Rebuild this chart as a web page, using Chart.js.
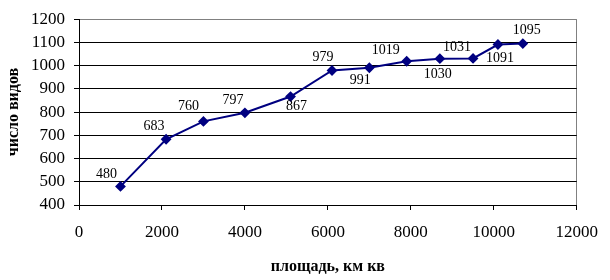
<!DOCTYPE html>
<html>
<head>
<meta charset="utf-8">
<script src="https://cdn.jsdelivr.net/npm/chart.js@4/dist/chart.umd.min.js"></script>
<style>
  html, body { margin: 0; padding: 0; background: #fff; }
  #wrap { width: 610px; height: 280px; }
</style>
</head>
<body>
<div id="wrap"><canvas id="chart"></canvas></div>
<script>
// площадь (км кв) and число видов
const areas = [1000, 2100, 3000, 4000, 5100, 6100, 7000, 7900, 8700, 9500, 10100, 10700];
const species = [480, 683, 760, 797, 867, 979, 991, 1019, 1030, 1031, 1091, 1095];
const xTicks = [0, 2000, 4000, 6000, 8000, 10000, 12000];
const yTicks = [400, 500, 600, 700, 800, 900, 1000, 1100, 1200];

const FONT = "'Liberation Serif', 'Times New Roman', serif";

// label nudges (px) from each point, as placed in the original
const labelOffsets = [
    [-14, -12], [-12, -13], [-15, -15], [-12, -12], [6, 10], [-9, -13],
    [-9, 13], [-21, -11], [-2, 16], [-16, -11], [2, 14], [4, -13]
];

const valueLabels = {
    id: 'valueLabels',
    afterDatasetsDraw(chart) {
        const ctx = chart.ctx;
        const meta = chart.getDatasetMeta(0);
        ctx.save();
        ctx.font = '14px ' + FONT;
        ctx.fillStyle = '#000';
        ctx.textAlign = 'center';
        ctx.textBaseline = 'middle';
        meta.data.forEach((pt, i) => {
            const [dx, dy] = labelOffsets[i];
            ctx.fillText(String(species[i]), pt.x + dx, pt.y + dy);
        });
        ctx.restore();
    }
};

new Chart(document.getElementById('chart'), {
    type: 'scatter',
    data: {
        datasets: [{
            data: areas.map((a, i) => ({ x: a, y: species[i] })),
            showLine: true,
            borderColor: '#000080',
            backgroundColor: '#000080',
            borderWidth: 2,
            pointStyle: 'rectRot',
            pointRadius: 4,
            pointHoverRadius: 4
        }]
    },
    options: {
        responsive: true,
        maintainAspectRatio: false,
        animation: false,
        events: [],
        layout: { padding: { top: 14, right: 25, left: 0, bottom: 0 } },
        plugins: {
            legend: { display: false },
            tooltip: { enabled: false }
        },
        scales: {
            x: {
                type: 'linear',
                min: 0,
                max: 12000,
                afterBuildTicks: (scale) => { scale.ticks = xTicks.map(v => ({ value: v })); },
                afterFit: (scale) => { scale.height = 75; },
                border: { color: '#000', width: 1 },
                grid: {
                    color: (c) => c.tick && c.tick.value === 12000 ? '#808080' : 'rgba(0,0,0,0)',
                    tickColor: '#000',
                    tickLength: 5
                },
                ticks: {
                    color: '#000',
                    font: { family: FONT, size: 17 },
                    padding: 12,
                    maxRotation: 0,
                    autoSkip: false,
                    callback: (v) => String(v)
                },
                title: {
                    display: true,
                    text: 'площадь, км кв',
                    color: '#000',
                    font: { family: FONT, size: 16, weight: 'bold' },
                    padding: { top: 9 }
                }
            },
            y: {
                min: 400,
                max: 1200,
                afterBuildTicks: (scale) => { scale.ticks = yTicks.map(v => ({ value: v })); },
                afterFit: (scale) => { scale.width = 79; },
                border: { color: '#000', width: 1 },
                grid: {
                    color: (c) => c.tick && c.tick.value === 1200 ? '#808080' : '#000',
                    tickColor: '#000',
                    tickLength: 5
                },
                ticks: {
                    color: '#000',
                    font: { family: FONT, size: 17 },
                    padding: 9,
                    autoSkip: false,
                    callback: (v) => String(v)
                },
                title: {
                    display: true,
                    text: 'число видов',
                    color: '#000',
                    font: { family: FONT, size: 16, weight: 'bold' },
                    padding: { bottom: 0 }
                }
            }
        }
    },
    plugins: [valueLabels]
});
</script>
</body>
</html>
